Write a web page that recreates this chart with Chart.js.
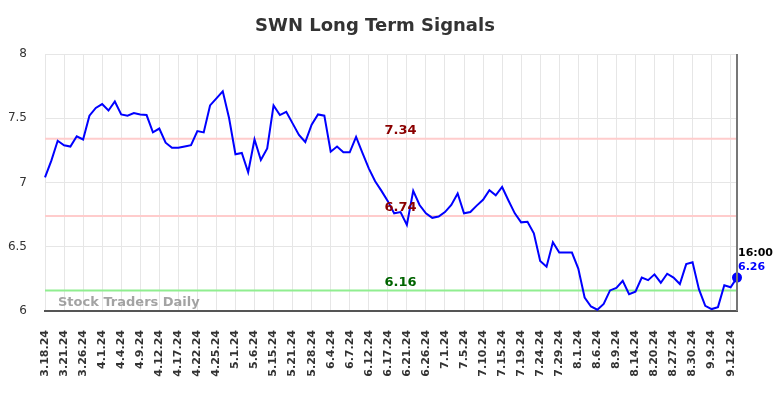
<!DOCTYPE html>
<html>
<head>
<meta charset="utf-8">
<script src="https://cdn.jsdelivr.net/npm/chart.js@4"></script>
<style>
  html, body { margin: 0; padding: 0; background: #fff; }
  #wrap { width: 784px; height: 398px; }
</style>
</head>
<body>
<div id="wrap"><canvas id="chart"></canvas></div>
<script>
// every third trading day gets a date label
const tickLabels = ['3.18.24','3.21.24','3.26.24','4.1.24','4.4.24','4.9.24','4.12.24','4.17.24','4.22.24','4.25.24',
  '5.1.24','5.6.24','5.15.24','5.21.24','5.28.24','6.4.24','6.7.24','6.12.24','6.17.24','6.21.24','6.26.24',
  '7.1.24','7.5.24','7.10.24','7.15.24','7.19.24','7.24.24','7.29.24','8.1.24','8.6.24','8.9.24','8.14.24',
  '8.20.24','8.27.24','8.30.24','9.9.24','9.12.24'];

const prices = [7.04,7.17,7.325,7.29,7.28,7.36,7.335,7.52,7.58,7.61,
  7.56,7.63,7.53,7.52,7.54,7.53,7.525,7.39,7.42,7.31,
  7.27,7.27,7.28,7.29,7.40,7.39,7.60,7.655,7.71,7.50,
  7.22,7.23,7.08,7.335,7.175,7.265,7.60,7.525,7.55,7.46,
  7.37,7.315,7.45,7.53,7.52,7.24,7.28,7.235,7.235,7.355,
  7.23,7.11,7.01,6.935,6.855,6.76,6.77,6.67,6.935,6.825,
  6.76,6.725,6.735,6.77,6.825,6.915,6.76,6.77,6.82,6.865,
  6.94,6.90,6.965,6.86,6.76,6.69,6.695,6.605,6.39,6.345,
  6.535,6.455,6.455,6.455,6.33,6.105,6.035,6.01,6.055,6.16,
  6.18,6.235,6.13,6.15,6.26,6.24,6.285,6.22,6.29,6.26,
  6.21,6.365,6.38,6.17,6.04,6.015,6.03,6.20,6.185,6.26];

const levels = [7.34, 6.74, 6.16];
const levelLineColors = ['#ffcccc', '#ffcccc', '#90ee90'];
const levelTextColors = ['#8b0000', '#8b0000', '#006400'];
const yTicks = [6, 6.5, 7, 7.5, 8];
const lastTime = '16:00';

const labels = prices.map((_, i) => (i % 3 === 0 ? tickLabels[i / 3] : ''));

const levelSets = levels.map((lv, k) => ({
  data: prices.map(() => lv),
  borderColor: levelLineColors[k],
  borderWidth: 2,
  pointRadius: 0,
  order: 2
}));

const overlay = {
  id: 'overlay',
  afterDatasetsDraw(chart) {
    const { ctx, chartArea: a, scales } = chart;
    const y = scales.y, x = scales.x;
    ctx.save();
    // right border
    ctx.strokeStyle = '#777';
    ctx.lineWidth = 2;
    ctx.beginPath();
    ctx.moveTo(a.right, a.top);
    ctx.lineTo(a.right, a.bottom);
    ctx.stroke();

    // title
    ctx.fillStyle = '#333';
    ctx.font = 'bold 18px "DejaVu Sans"';
    ctx.textAlign = 'center';
    ctx.textBaseline = 'middle';
    ctx.fillText('SWN Long Term Signals', 375, 26);

    // watermark
    ctx.fillStyle = 'rgba(140,140,140,0.8)';
    ctx.font = 'bold 13px "DejaVu Sans"';
    ctx.textAlign = 'left';
    ctx.fillText('Stock Traders Daily', a.left + 13, a.bottom - 8);

    // level labels
    ctx.font = 'bold 13px "DejaVu Sans"';
    ctx.textAlign = 'center';
    const mid = x.getPixelForValue(56);
    levels.forEach((lv, k) => {
      ctx.fillStyle = levelTextColors[k];
      ctx.fillText(lv.toFixed(2), mid, y.getPixelForValue(lv) - 8);
    });

    // last price label
    const last = prices.length - 1;
    const lx = x.getPixelForValue(last) + 1;
    const ly = y.getPixelForValue(prices[last]);
    ctx.textAlign = 'left';
    ctx.font = 'bold 11px "DejaVu Sans"';
    ctx.fillStyle = '#000';
    ctx.fillText(lastTime, lx, ly - 24);
    ctx.fillStyle = '#0000ff';
    ctx.fillText(prices[last].toFixed(2), lx, ly - 10);
    ctx.restore();
  }
};

new Chart(document.getElementById('chart'), {
  type: 'line',
  data: {
    labels: labels,
    datasets: [{
      data: prices,
      borderColor: '#0000ff',
      backgroundColor: '#0000ff',
      borderWidth: 2,
      tension: 0,
      pointRadius: prices.map((_, i) => (i === prices.length - 1 ? 4 : 0)),
      order: 1
    }, ...levelSets]
  },
  options: {
    responsive: true,
    maintainAspectRatio: false,
    animation: false,
    layout: { padding: { top: 54, right: 47, left: 0, bottom: 0 } },
    plugins: { legend: { display: false }, tooltip: { enabled: false }, title: { display: false } },
    scales: {
      x: {
        afterFit(s) { s.height = 87; },
        grid: { color: '#e6e6e6', drawTicks: false },
        border: { color: '#555', width: 2 },
        ticks: {
          autoSkip: false,
          maxRotation: 90,
          minRotation: 90,
          padding: 19,
          color: '#333',
          font: { family: 'DejaVu Sans', size: 11, weight: 'bold' },
          callback(v) { const l = this.getLabelForValue(v); return l === '' ? null : l; }
        }
      },
      y: {
        min: 6,
        max: 8,
        afterFit(s) { s.width = 45; },
        afterBuildTicks(s) { s.ticks = yTicks.map(v => ({ value: v })); },
        grid: { color: '#e6e6e6', drawTicks: false },
        border: { display: false },
        ticks: {
          padding: 18,
          color: '#333',
          font: { family: 'DejaVu Sans', size: 12 },
          callback: v => String(v)
        }
      }
    }
  },
  plugins: [overlay]
});
</script>
</body>
</html>
